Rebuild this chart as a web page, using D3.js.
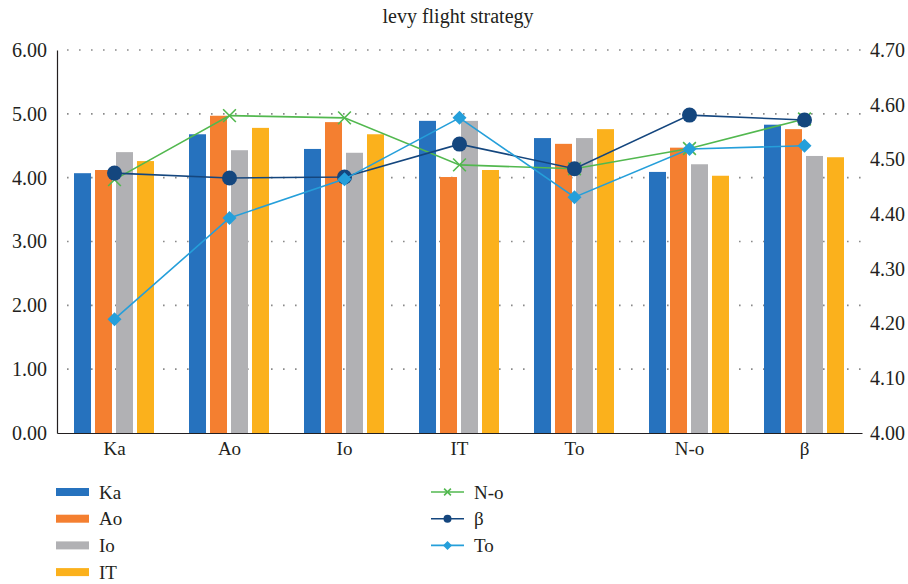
<!DOCTYPE html>
<html><head><meta charset="utf-8">
<script src="https://cdn.jsdelivr.net/npm/d3@7"></script>
<style>body{margin:0;background:#fff}svg{display:block}</style>
</head><body><svg id="c" width="908" height="584" font-family="'Liberation Serif','Times New Roman',serif"></svg>
<script>
const categories = ["Ka","Ao","Io","IT","To","N-o","β"];
const barSeries = ["Ka","Ao","Io","IT"];
const barKa = [4.07,4.68,4.45,4.89,4.62,4.09,4.83];
const barAo = [4.12,4.97,4.87,4.01,4.53,4.47,4.76];
const barIo = [4.40,4.43,4.39,4.89,4.62,4.21,4.34];
const barIT = [4.26,4.78,4.68,4.12,4.76,4.03,4.32];
const lineNo = [4.463,4.580,4.576,4.490,4.483,4.520,4.574];
const lineBeta = [4.475,4.466,4.468,4.528,4.483,4.581,4.572];
const lineTo = [4.208,4.393,4.464,4.576,4.431,4.519,4.525];
const leftTicks = [0,1,2,3,4,5,6];
const rightTicks = [4.0,4.1,4.2,4.3,4.4,4.5,4.6,4.7];

const barData = [barKa,barAo,barIo,barIT];
const barColors = ["#2672be","#f47f30","#b1b1b4","#fbb11c"];
const lineSeries = [
  {name:"N-o", vals:lineNo, color:"#52b84f", mark:"x"},
  {name:"β", vals:lineBeta, color:"#14467e", mark:"circle"},
  {name:"To", vals:lineTo, color:"#259fda", mark:"diamond"}
];
const FONT = "'Liberation Serif','Times New Roman',serif";
const TXT = "#231f20";

const svg = d3.select("#c");
const L=57, R=862, T=50, B=433;
const x0 = d3.scaleBand().domain(categories).range([L,R]);
const x1 = d3.scaleBand().domain(barSeries).range([17,97]).paddingInner(0.19);
const yL = d3.scaleLinear().domain([0,6]).range([B,T]);
const yR = d3.scaleLinear().domain([4.0,4.7]).range([B,T]);

// gridlines
svg.append("g").selectAll("line").data(leftTicks.slice(1)).join("line")
  .attr("x1",L+10).attr("x2",R).attr("y1",d=>yL(d)).attr("y2",d=>yL(d))
  .attr("stroke","#8a8a8a").attr("stroke-width",1.6).attr("stroke-dasharray","1.6,10.4");

// bars
barData.forEach((arr,i)=>{
  svg.append("g").selectAll("rect").data(arr).join("rect")
    .attr("x",(d,j)=>x0(categories[j])+x1(barSeries[i]))
    .attr("width",x1.bandwidth())
    .attr("y",d=>yL(d)).attr("height",d=>B-yL(d))
    .attr("fill",barColors[i]);
});

function styleAxis(g,size){
  g.attr("font-family",FONT).attr("font-size",size);
  g.selectAll("text").attr("fill",TXT);
}
// axes
const axL = svg.append("g").attr("transform",`translate(${L},0)`)
  .call(d3.axisLeft(yL).tickValues(leftTicks).tickFormat(d3.format(".2f")).tickSize(0).tickPadding(10));
axL.select(".domain").attr("stroke",TXT).attr("stroke-width",1.2);
styleAxis(axL,20);
const axR = svg.append("g").attr("transform",`translate(${R},0)`)
  .call(d3.axisRight(yR).tickValues(rightTicks).tickFormat(d3.format(".2f")).tickSize(0).tickPadding(8));
axR.select(".domain").remove();
styleAxis(axR,20);
const axB = svg.append("g").attr("transform",`translate(0,${B})`)
  .call(d3.axisBottom(x0).tickSize(0).tickPadding(9));
axB.select(".domain").attr("stroke",TXT).attr("stroke-width",1.2);
styleAxis(axB,19);

// lines
const cx = c=>x0(c)+x0.bandwidth()/2;
function marker(g,type,color,x,y,s){
  if(type==="x"){
    const r=s*0.85;
    g.append("path").attr("d",`M${x-r},${y-r}L${x+r},${y+r}M${x-r},${y+r}L${x+r},${y-r}`).attr("stroke",color).attr("stroke-width",1.6).attr("fill","none");
  } else if(type==="circle"){
    g.append("circle").attr("cx",x).attr("cy",y).attr("r",s).attr("fill",color);
  } else {
    g.append("path").attr("d",`M${x},${y-s}L${x+s},${y}L${x},${y+s}L${x-s},${y}Z`).attr("fill",color);
  }
}
lineSeries.forEach(s=>{
  const g = svg.append("g");
  g.append("path").datum(s.vals)
    .attr("d",d3.line().x((d,j)=>cx(categories[j])).y(d=>yR(d)))
    .attr("fill","none").attr("stroke",s.color).attr("stroke-width",1.6);
  s.vals.forEach((v,j)=>marker(g,s.mark,s.color,cx(categories[j]),yR(v),s.mark==="diamond"?7:7.5));
});

// title
svg.append("text").attr("x",458).attr("y",23).attr("text-anchor","middle")
  .attr("font-size",20).attr("fill",TXT).text("levy flight strategy");

// legend
const lg = svg.append("g").attr("font-size",19).attr("fill",TXT);
barSeries.forEach((n,i)=>{
  const y=492+i*26.7;
  lg.append("rect").attr("x",56).attr("y",y-4).attr("width",33).attr("height",8).attr("fill",barColors[i]);
  lg.append("text").attr("x",99).attr("y",y+6.5).attr("fill",TXT).text(n);
});
lineSeries.forEach((s,i)=>{
  const y=492+i*26.7;
  lg.append("line").attr("x1",431).attr("x2",464).attr("y1",y).attr("y2",y).attr("stroke",s.color).attr("stroke-width",1.6);
  marker(lg,s.mark,s.color,447.5,y,s.mark==="diamond"?4.5:4);
  lg.append("text").attr("x",474).attr("y",y+6.5).attr("fill",TXT).text(s.name);
});
</script></body></html>
